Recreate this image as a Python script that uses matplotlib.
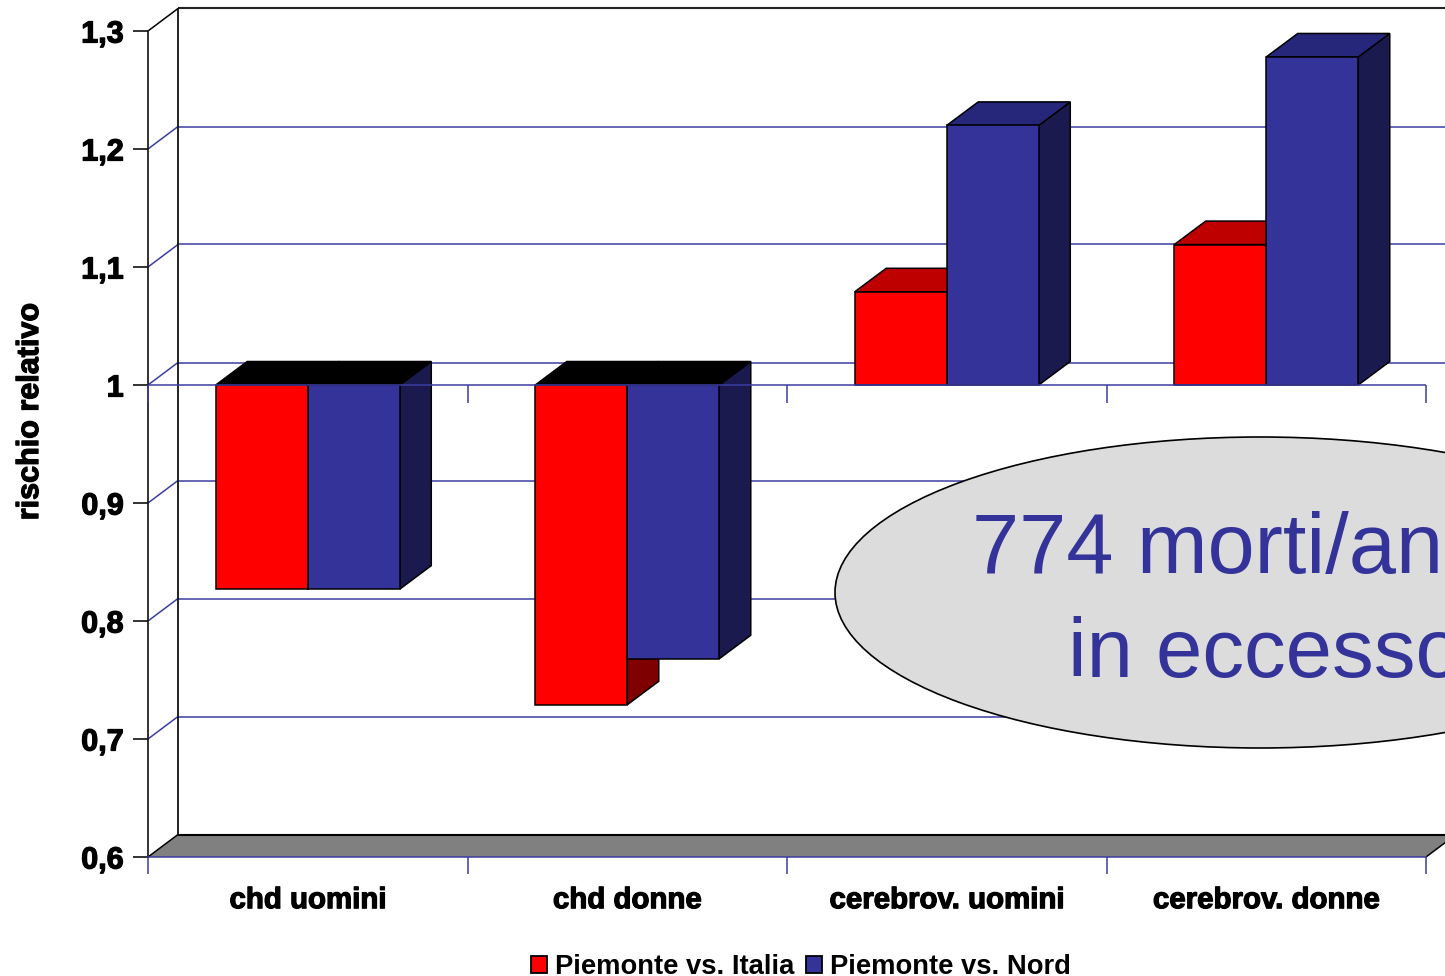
import matplotlib
matplotlib.use("Agg")
import matplotlib.pyplot as plt
import matplotlib.patheffects as pe
from matplotlib.patches import Ellipse, Polygon, Patch

categories = ["chd uomini", "chd donne", "cerebrov. uomini", "cerebrov. donne"]
italia = [0.827, 0.729, 1.079, 1.119]
nord = [0.827, 0.768, 1.220, 1.278]
y_ticks = [0.6, 0.7, 0.8, 0.9, 1.0, 1.1, 1.2, 1.3]
y_labels = ["0,6", "0,7", "0,8", "0,9", "1", "1,1", "1,2", "1,3"]
series_names = ["Piemonte vs. Italia", "Piemonte vs. Nord"]

W, H = 1445, 976
BASE = 1.0
BAR_W = 0.288
BLUE_LINE = "#3c3ca0"
heavy = [pe.withStroke(linewidth=0.9, foreground="black")]

plt.rcParams["font.family"] = ["Liberation Sans", "DejaVu Sans"]
fig = plt.figure(figsize=(W / 100, H / 100), dpi=100)
ax = fig.add_axes([148 / W, (H - 857) / H, 1278 / W, 826 / H])
ax.set_xlim(0, 4)
ax.set_ylim(0.6, 1.3)

# pixel depth of the fake 3d box, turned into data units
px_x = 4 / 1278
px_y = 0.7 / 826
wall_dx, wall_dy = 30 * px_x, 22.5 * px_y
bar_dx, bar_dy = 31.5 * px_x, 23.5 * px_y


def poly(points, color, z, edge="black", lw=1.1):
    ax.add_patch(Polygon(points, closed=True, facecolor=color, edgecolor=edge,
                         linewidth=lw, zorder=z, clip_on=False, joinstyle="miter"))


def line(xs, ys, color, z=1, lw=1.1):
    ax.plot(xs, ys, color=color, lw=lw, zorder=z, clip_on=False, solid_capstyle="butt")


# floor, running off the right edge
right = 4 + 30 * px_x
poly([(0, 0.6), (wall_dx, 0.6 + wall_dy), (right, 0.6 + wall_dy), (4, 0.6)], "#808080", 1, edge="none")
line([wall_dx, right], [0.6 + wall_dy] * 2, "black", z=2, lw=1.5)
line([0, wall_dx], [0.6, 0.6 + wall_dy], "black", z=2)
line([4, right], [0.6, 0.6 + wall_dy], "black", z=2)

# back wall: gridlines and their slanted returns
for v in y_ticks[1:-1]:
    line([0, wall_dx], [v, v + wall_dy], BLUE_LINE)
    line([wall_dx, right], [v + wall_dy] * 2, BLUE_LINE)
line([0, wall_dx], [1.3, 1.3 + wall_dy], "black")
line([wall_dx, right], [1.3 + wall_dy] * 2, "#222222", lw=1.5)
line([wall_dx, wall_dx], [0.6 + wall_dy, 1.3 + wall_dy], "#111111", lw=1.3)

# boxes, red ones first so the blue ones sit on top
for i in range(len(categories)):
    x0 = i + 0.5 - BAR_W
    x1 = i + 0.5
    for left, v, front, top, side in (
        (x0, italia[i], "#ff0000", "#bf0000", "#7f0000"),
        (x1, nord[i], "#333399", "#26267a", "#1a1a4e"),
    ):
        z = 3 if left == x0 else 4
        end = left + BAR_W
        high = max(v, BASE)
        low = min(v, BASE)
        # side face
        poly([(end, low), (end + bar_dx, low + bar_dy), (end + bar_dx, high + bar_dy), (end, high)], side, z)
        # top face, in shade when the box hangs below the baseline
        top_color = top if v > BASE else "#000000"
        poly([(left, high), (left + bar_dx, high + bar_dy), (end + bar_dx, high + bar_dy), (end, high)], top_color, z)
        ax.bar(left, v - BASE, BAR_W, bottom=BASE, align="edge", color=front,
               edgecolor="black", linewidth=1.1, zorder=z + 0.5, clip_on=False)

# baseline at 1 with its own tick marks
line([0, 4], [BASE, BASE], BLUE_LINE, z=6)
for i in range(5):
    line([i, i], [BASE, BASE - 18 * px_y], BLUE_LINE, z=6)

for s in ("top", "right"):
    ax.spines[s].set_visible(False)
ax.spines["left"].set_color("#111111")
ax.spines["left"].set_linewidth(1.2)
ax.spines["bottom"].set_color(BLUE_LINE)
ax.spines["bottom"].set_linewidth(1.1)
ax.patch.set_alpha(0)

ax.set_yticks(y_ticks)
ax.set_yticklabels(y_labels, fontsize=22, fontweight="bold", path_effects=heavy)
ax.tick_params(axis="y", length=11, width=1.2, color="#111111", pad=6.5)
ax.set_xticks(range(5))
ax.set_xticklabels([])
ax.tick_params(axis="x", which="major", length=12.5, width=1.1, color=BLUE_LINE)
ax.set_xticks([i + 0.5 for i in range(4)], minor=True)
ax.set_xticklabels(categories, minor=True, fontsize=21.2, fontweight="bold", path_effects=heavy)
ax.tick_params(axis="x", which="minor", length=0, pad=21)

ax.set_ylabel("rischio relativo", fontsize=22, fontweight="bold", path_effects=heavy, va="center")
ax.yaxis.set_label_coords(-0.0923, 0.539)

# callout over the plot
ax_over = fig.add_axes([0, 0, 1, 1])
ax_over.set_xlim(0, W)
ax_over.set_ylim(H, 0)
ax_over.axis("off")
ax_over.add_patch(Ellipse((1260, 592.5), 850, 311, facecolor="#dcdcdc", edgecolor="black", linewidth=1.2))
ax_over.text(1255, 573, "774 morti/anno", color="#333399", fontsize=61, ha="center", va="baseline")
ax_over.text(1265, 677, "in eccesso", color="#333399", fontsize=60, ha="center", va="baseline")

handles = [Patch(facecolor="#ff0000", edgecolor="black", linewidth=1.3),
           Patch(facecolor="#333399", edgecolor="black", linewidth=1.3)]
fig.legend(handles, series_names, loc="center", bbox_to_anchor=(801 / W, (H - 967) / H), ncol=2,
           frameon=False, prop={"size": 19.7, "weight": "bold"}, handlelength=0.58, handleheight=0.58,
           handletextpad=0.28, columnspacing=0.45, borderpad=0, labelspacing=0)

fig.savefig("out.png", dpi=100)
